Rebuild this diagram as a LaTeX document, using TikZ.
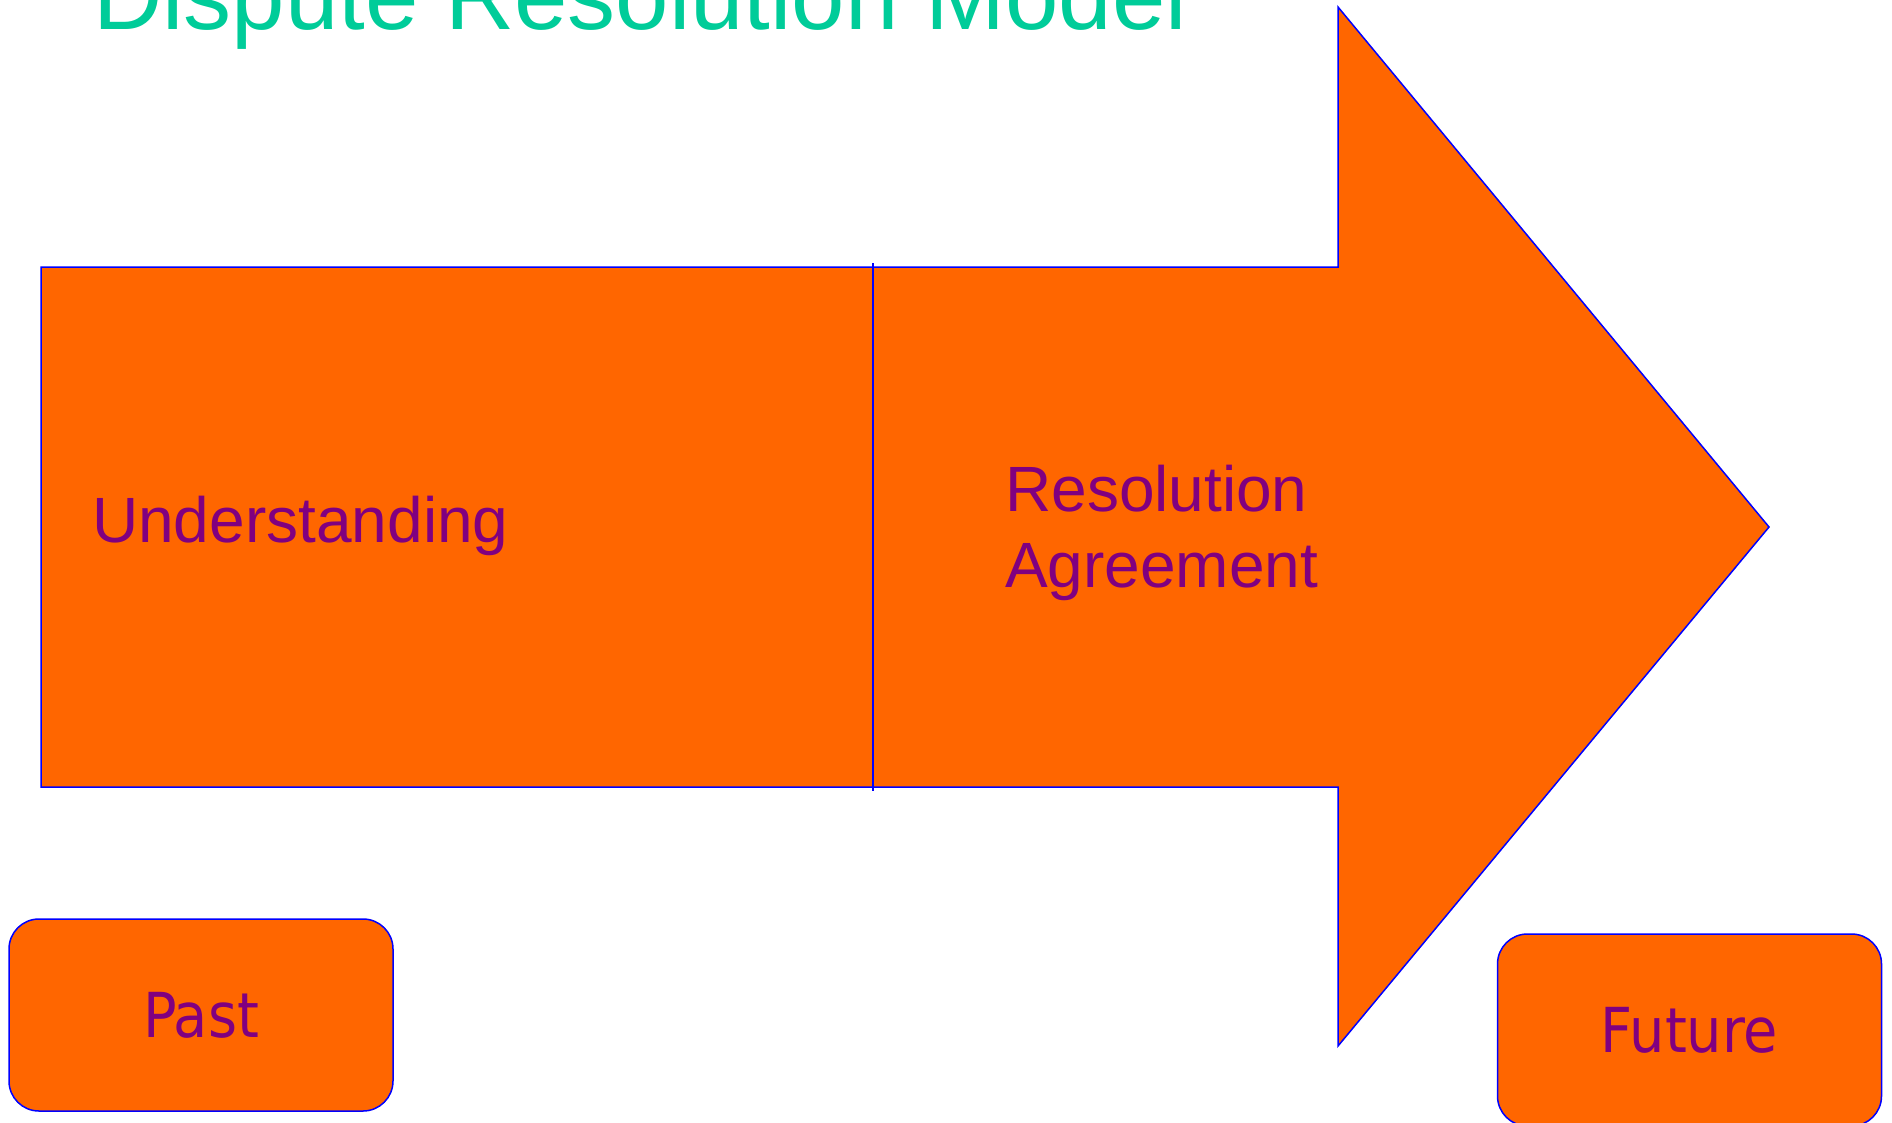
\documentclass[tikz,border=0pt]{standalone}
\usepackage{fontspec}
\setmainfont{Liberation Sans}
\newfontfamily\boxfont{DejaVu Sans Condensed}
\usepackage{xcolor}
\usepackage{tikz}
\definecolor{arroworange}{HTML}{FF6600}
\definecolor{edgeblue}{HTML}{0000FF}
\definecolor{wordpurple}{HTML}{800080}
\definecolor{titlegreen}{HTML}{00CC99}
\tikzset{
  stage/.style={draw=edgeblue, fill=arroworange, line width=1.5pt},
  timebox/.style={stage, rounded corners=30pt, minimum width=384pt,
    minimum height=192pt, inner sep=0pt, text=wordpurple,
    font=\boxfont\fontsize{62}{74}\selectfont},
  word/.style={inner sep=0pt, text=wordpurple, font=\fontsize{64}{76}\selectfont}
}

\begin{document}
\begin{tikzpicture}[x=1pt, y=-1pt]
    \useasboundingbox (0,0) rectangle (1892,1122);
    % heading, cut by the top edge
    \node[anchor=base west, inner sep=0pt, text=titlegreen,
      font=\fontsize{96}{115}\selectfont] (heading) at (93,29) {Dispute Resolution Model};
    % the big arrow
    \draw[stage]
      (41,267) -- (1338,267) -- (1338,7) -- (1769,527) -- (1338,1046) --
      (1338,787) -- (41,787) -- cycle;
    \draw[edgeblue, line width=1.5pt] (873,263) -- (873,791);
    \node[word, anchor=base west] (understanding) at (92,542) {Understanding};
    \node[word, anchor=north west, align=left] (agreement) at (1005,465)
      {Resolution\\Agreement};
    % time boxes
    \node[timebox] (past) at (201,1015) {Past};
    \node[timebox] (future) at (1689.5,1030) {Future};
  \end{tikzpicture}
\end{document}
